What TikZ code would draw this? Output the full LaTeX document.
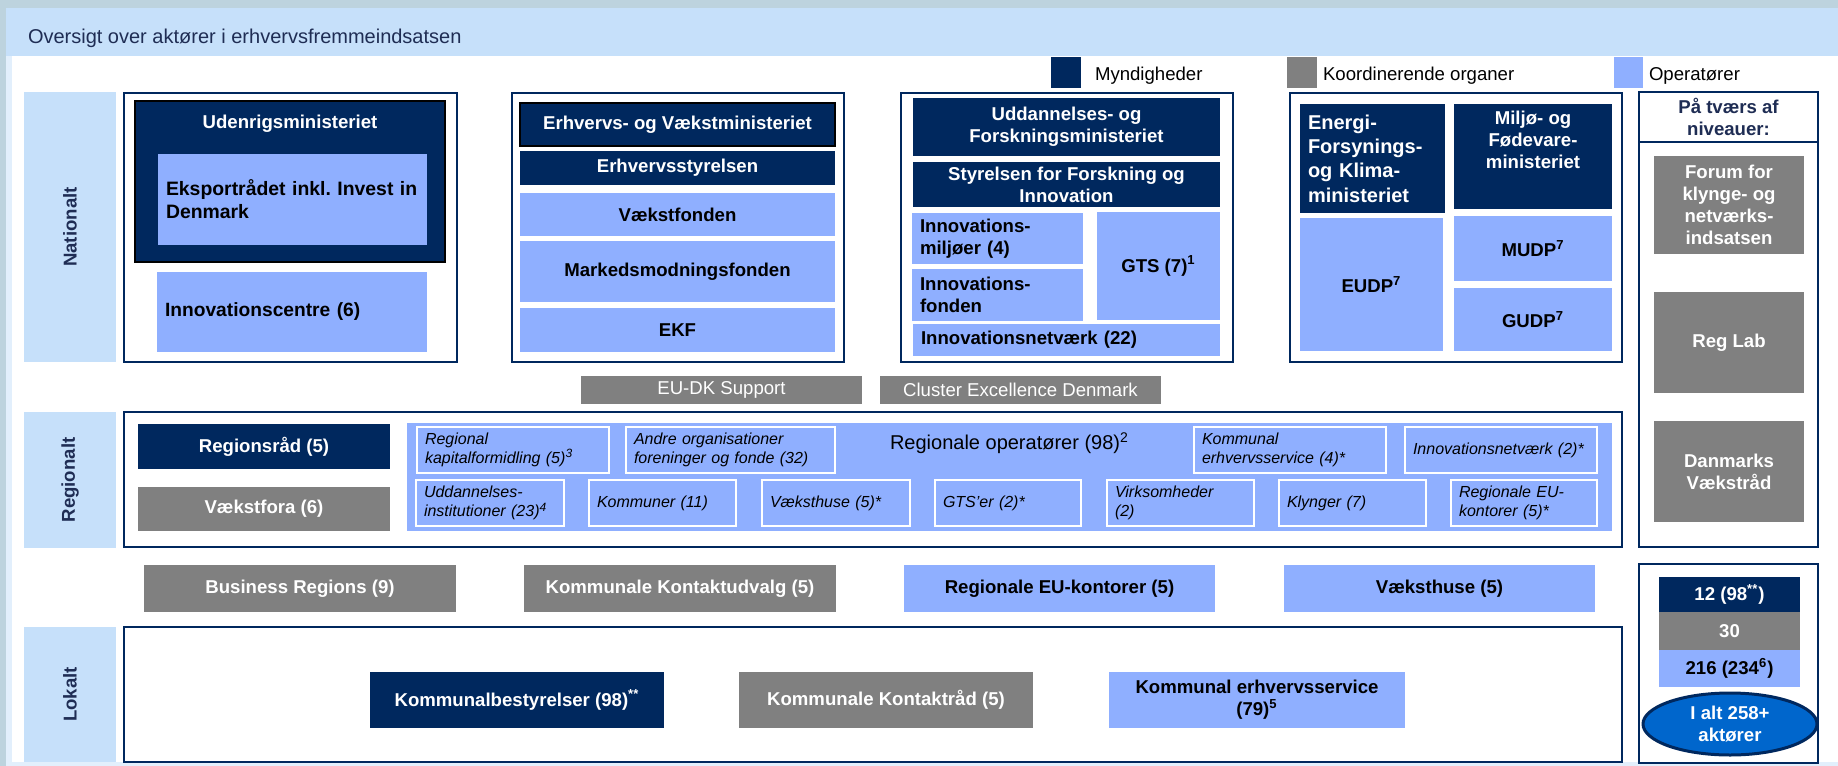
\documentclass[tikz,border=0pt]{standalone}
\usepackage{fontspec}
\setmainfont{Liberation Sans}
\usetikzlibrary{shapes.geometric}
\definecolor{myn}{RGB}{0,40,94}
\definecolor{koord}{RGB}{128,128,128}
\definecolor{oper}{RGB}{143,175,255}
\definecolor{niveau}{RGB}{198,224,250}
\definecolor{ramme}{RGB}{189,211,222}
\definecolor{tekstblaa}{RGB}{31,45,84}
\definecolor{ialt}{RGB}{0,102,204}

\begin{document}
\begin{tikzpicture}[x=0.5pt, y=-0.5pt, every node/.style={shape=rectangle, inner sep=0pt, outer sep=0pt, align=center},
	rect/.style n args={4}{at={({(#1+#3)/2},{(#2+#4)/2})}, minimum width={(#3-#1)*0.5pt}, minimum height={(#4-#2)*0.5pt}},
	lrect/.style n args={4}{rect={#1}{#2}{#3}{#4}, align=left, text width={(#3-#1)*0.5pt-8pt}, inner xsep=4pt}]
	\tikzstyle{mynbox} = [fill=myn, text=white, font=\fontsize{9.3}{11}\selectfont\bfseries]
	\tikzstyle{koordbox} = [fill=koord, text=white, font=\fontsize{9.3}{11}\selectfont\bfseries]
	\tikzstyle{opbox} = [fill=oper, text=black, font=\fontsize{9.3}{11}\selectfont\bfseries]
	\tikzstyle{regbox} = [fill=oper, draw=white, line width=0.7pt, font=\fontsize{8}{9.5}\selectfont\itshape]
	\tikzstyle{grp} = [draw=myn, line width=0.7pt, fill=white]
	\tikzstyle{niv} = [fill=niveau, text=tekstblaa, font=\fontsize{9.3}{11}\selectfont\bfseries]
	\tikzstyle{lgtxt} = [anchor=west, font=\fontsize{9.3}{11}\selectfont]
	\tikzstyle{toptxt} = [anchor=center, text=white, font=\fontsize{9.3}{11}\selectfont\bfseries]
	\useasboundingbox (0,0) rectangle (1838,766);
	% baggrund og titel
	\fill[ramme] (0,0) rectangle (1838,766);
	\fill[niveau!50!white] (6,8) rectangle (1838,766);
	\fill[white] (12,56) rectangle (1838,762);
	\fill[niveau] (6,8) rectangle (1838,56);
	\node[anchor=base west, text=tekstblaa, font=\fontsize{10}{12}\selectfont] (titel) at (28,43) {Oversigt over aktører i erhvervsfremmeindsatsen};
	% signaturforklaring
	\node[fill=myn, rect={1051}{57}{1081}{88}] (lgmyn) {};
	\node[lgtxt] (lgmyntxt) at (1095,76) {Myndigheder};
	\node[fill=koord, rect={1287}{57}{1317}{88}] (lgkoord) {};
	\node[lgtxt] (lgkoordtxt) at (1323,76) {Koordinerende organer};
	\node[fill=oper, rect={1614}{57}{1643}{88}] (lgop) {};
	\node[lgtxt] (lgoptxt) at (1649,76) {Operatører};
	% niveauer
	\node[niv, rect={24}{92}{116}{362}] (nationalt) {\rotatebox{90}{Nationalt}};
	\node[niv, rect={24}{412}{116}{548}] (regionalt) {\rotatebox{90}{Regionalt}};
	\node[niv, rect={24}{627}{116}{762}] (lokalt) {\rotatebox{90}{Lokalt}};
	% nationalt
	\node[grp, rect={124}{93}{457}{362}] (grp1) {};
	\node[mynbox, draw=black, line width=0.6pt, rect={135}{101}{445}{262}, label={[toptxt, yshift=-11.5pt]north:Udenrigsministeriet}] (udm) {};
	\node[opbox, lrect={158}{154}{427}{245}, font=\fontsize{9.7}{11.5}\selectfont\bfseries] (eksport) {Eksportrådet inkl.\ Invest in\\Denmark};
	\node[opbox, lrect={157}{272}{427}{352}, font=\fontsize{9.6}{12}\selectfont\bfseries] (innocentre) {Innovationscentre (6)};
	\node[grp, rect={512}{93}{844}{362}] (grp2) {};
	\node[mynbox, draw=black, line width=0.6pt, rect={520}{103}{835}{146}] (evm) {Erhvervs- og Vækstministeriet};
	\node[mynbox, rect={520}{151}{835}{185}] (erst) {Erhvervsstyrelsen};
	\node[opbox, rect={520}{193}{835}{236}] (vaekstfonden) {Vækstfonden};
	\node[opbox, rect={520}{241}{835}{302}] (mmf) {Markedsmodningsfonden};
	\node[opbox, rect={520}{308}{835}{352}] (ekf) {EKF};
	\node[grp, rect={901}{93}{1233}{362}] (grp3) {};
	\node[mynbox, rect={913}{98}{1220}{156}] (ufm) {Uddannelses- og\\Forskningsministeriet};
	\node[mynbox, rect={913}{162}{1220}{207}] (sfi) {Styrelsen for Forskning og\\Innovation};
	\node[opbox, lrect={912}{213}{1083}{264}] (innomil) {Innovations-\\miljøer (4)};
	\node[opbox, lrect={912}{269}{1083}{321}] (innofond) {Innovations-\\fonden};
	\node[opbox, rect={1097}{212}{1220}{320}] (gts) {GTS (7)\textsuperscript{1}};
	\node[opbox, lrect={913}{324}{1220}{356}] (innonet) {Innovationsnetværk (22)};
	\node[grp, rect={1290}{93}{1622}{362}] (grp4) {};
	\node[mynbox, lrect={1300}{104}{1445}{213}, font=\fontsize{10}{12.2}\selectfont\bfseries] (efkm) {Energi-\\Forsynings-\\og Klima-\\ministeriet};
	\node[mynbox, rect={1454}{104}{1612}{209}] (mfvm) {Miljø- og\\Fødevare-\\ministeriet\\[6pt]};
	\node[opbox, rect={1300}{218}{1443}{351}] (eudp) {EUDP\textsuperscript{7}};
	\node[opbox, rect={1454}{216}{1612}{281}] (mudp) {MUDP\textsuperscript{7}};
	\node[opbox, rect={1454}{288}{1612}{351}] (gudp) {GUDP\textsuperscript{7}};
	% på tværs af niveauer
	\node[grp, rect={1639}{92}{1818}{142}, text=tekstblaa, font=\fontsize{9.3}{11}\selectfont\bfseries] (tvaers) {På tværs af\\niveauer:};
	\node[grp, rect={1639}{142}{1818}{547}] (tvaersbund) {};
	\node[koordbox, rect={1654}{156}{1804}{254}] (forum) {Forum for\\klynge- og\\netværks-\\indsatsen};
	\node[koordbox, rect={1654}{292}{1804}{393}] (reglab) {Reg Lab};
	\node[koordbox, rect={1654}{421}{1804}{522}] (dvr) {Danmarks\\Vækstråd};
	\node[koordbox, rect={581}{376}{862}{404}, font=\fontsize{9.3}{11}\selectfont] (eudk) {EU-DK Support};
	\node[koordbox, rect={880}{376}{1161}{404}, font=\fontsize{9.3}{11}\selectfont] (cluster) {Cluster Excellence Denmark};
	% regionalt
	\node[grp, rect={124}{412}{1622}{547}] (region) {};
	\node[mynbox, rect={138}{424}{390}{469}] (regraad) {Regionsråd (5)};
	\node[koordbox, rect={138}{487}{390}{531}] (vfora) {Vækstfora (6)};
	\node[opbox, rect={407}{423}{1612}{531}, label={[anchor=center, yshift=-10pt, font=\fontsize{10}{12}\selectfont]north:Regionale operatører (98)\textsuperscript{2}}] (regop) {};
	\node[regbox, lrect={417}{427}{609}{473}] (kapital) {Regional\\kapitalformidling (5)\textsuperscript{3}};
	\node[regbox, lrect={626}{427}{835}{473}] (andre) {Andre organisationer\\foreninger og fonde (32)};
	\node[regbox, lrect={1194}{427}{1386}{473}] (kerv4) {Kommunal\\erhvervsservice (4)*};
	\node[regbox, lrect={1405}{427}{1597}{473}] (innonet2) {Innovationsnetværk (2)*};
	\node[regbox, lrect={416}{480}{564}{526}] (uddinst) {Uddannelses-\\institutioner (23)\textsuperscript{4}};
	\node[regbox, lrect={589}{480}{736}{526}] (kommuner) {Kommuner (11)};
	\node[regbox, lrect={762}{480}{910}{526}] (vhus) {Væksthuse (5)*};
	\node[regbox, lrect={935}{480}{1081}{526}] (gtser) {GTS'er (2)*};
	\node[regbox, lrect={1107}{480}{1254}{526}] (virk) {Virksomheder\\(2)};
	\node[regbox, lrect={1279}{480}{1426}{526}] (klynger) {Klynger (7)};
	\node[regbox, lrect={1451}{480}{1597}{526}] (reukont) {Regionale EU-\\kontorer (5)*};
	% mellemniveau
	\node[koordbox, rect={144}{565}{456}{612}] (busreg) {Business Regions (9)};
	\node[koordbox, rect={524}{565}{836}{612}] (kku) {Kommunale Kontaktudvalg (5)};
	\node[opbox, rect={904}{565}{1215}{612}] (reuk) {Regionale EU-kontorer (5)};
	\node[opbox, rect={1284}{565}{1595}{612}] (vh) {Væksthuse (5)};
	% lokalt
	\node[grp, rect={124}{627}{1622}{762}] (lokal) {};
	\node[mynbox, rect={370}{672}{664}{728}] (kbest) {Kommunalbestyrelser (98)\textsuperscript{**}};
	\node[koordbox, rect={739}{672}{1033}{728}] (kkr) {Kommunale Kontaktråd (5)};
	\node[opbox, rect={1109}{672}{1405}{728}] (kers) {Kommunal erhvervsservice\\(79)\textsuperscript{5}};
	% i alt
	\node[grp, rect={1639}{564}{1818}{763}] (sum) {};
	\node[mynbox, rect={1659}{577}{1800}{612}] (sum1) {12 (98\textsuperscript{**})};
	\node[koordbox, rect={1659}{612}{1800}{650}] (sum2) {30};
	\node[opbox, rect={1659}{650}{1800}{687}] (sum3) {216 (234\textsuperscript{6})};
	\node[ellipse, fill=ialt, draw=myn, line width=1.5pt, text=white, font=\fontsize{9.3}{11}\selectfont\bfseries, rect={1643}{693}{1817}{755}] (ialt) {I alt 258+\\aktører};
\end{tikzpicture}
\end{document}
